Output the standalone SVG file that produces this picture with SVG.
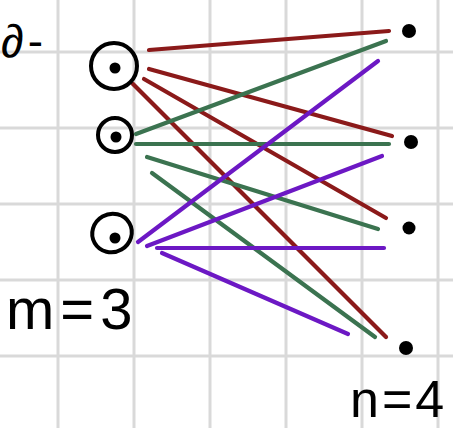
<svg xmlns="http://www.w3.org/2000/svg" width="453" height="428" viewBox="0 0 453 428">
<style>
.grid line{stroke:#d9d9d9;stroke-width:3}
.ring{fill:none;stroke:#000;stroke-width:4}
.dot{fill:#000}
.e{stroke-width:4.2;stroke-linecap:round;fill:none}
.r{stroke:#8b1a1a}
.g{stroke:#3b7350}
.p{stroke:#6c18c4}
.t{font-family:"Liberation Sans",Arial,sans-serif;fill:#000}
</style>
<rect width="453" height="428" fill="#fff"/>
<g class="grid">
<line x1="58" y1="0" x2="58" y2="428"/>
<line x1="134" y1="0" x2="134" y2="428"/>
<line x1="210" y1="0" x2="210" y2="428"/>
<line x1="286" y1="0" x2="286" y2="428"/>
<line x1="362" y1="0" x2="362" y2="428"/>
<line x1="438" y1="0" x2="438" y2="428"/>
<line x1="0" y1="52" x2="453" y2="52"/>
<line x1="0" y1="128" x2="453" y2="128"/>
<line x1="0" y1="204" x2="453" y2="204"/>
<line x1="0" y1="280" x2="453" y2="280"/>
<line x1="0" y1="356" x2="453" y2="356"/>
</g>
<g id="connectors">
<line class="e r" x1="149" y1="50" x2="389" y2="31"/>
<line class="e r" x1="149" y1="69" x2="392" y2="136"/>
<line class="e r" x1="144" y1="79" x2="386" y2="218"/>
<line class="e r" x1="133" y1="84" x2="386" y2="337"/>
<line class="e g" x1="136" y1="134" x2="386" y2="41"/>
<line class="e g" x1="136" y1="144" x2="389" y2="144"/>
<line class="e g" x1="147" y1="157" x2="378" y2="229"/>
<line class="e g" x1="152" y1="173" x2="375" y2="337"/>
<line class="e p" x1="138" y1="242" x2="378" y2="61"/>
<line class="e p" x1="147" y1="246" x2="382" y2="156"/>
<line class="e p" x1="157" y1="248" x2="384" y2="248"/>
<line class="e p" x1="162" y1="253" x2="348" y2="334"/>
</g>
<g id="left1"><circle class="ring" cx="114" cy="66" r="23"/><circle class="dot" cx="115" cy="68" r="5.5"/></g>
<g id="left2"><circle class="ring" cx="115" cy="135" r="17"/><circle class="dot" cx="116" cy="137" r="5.5"/></g>
<g id="left3"><ellipse class="ring" cx="112" cy="233" rx="20" ry="19" transform="rotate(-30 112 233)"/><circle class="dot" cx="115" cy="238" r="5.5"/></g>
<g id="right1"><circle class="dot" cx="409" cy="31" r="7"/></g>
<g id="right2"><circle class="dot" cx="411" cy="142" r="7"/></g>
<g id="right3"><circle class="dot" cx="409" cy="228" r="6.5"/></g>
<g id="right4"><circle class="dot" cx="406" cy="348" r="7"/></g>
<text class="t" x="1" y="57" font-size="46" letter-spacing="4">∂-</text>
<text class="t" x="6" y="329" font-size="58" letter-spacing="6">m=3</text>
<text class="t" x="350" y="417" font-size="52" letter-spacing="3">n=4</text>
</svg>
